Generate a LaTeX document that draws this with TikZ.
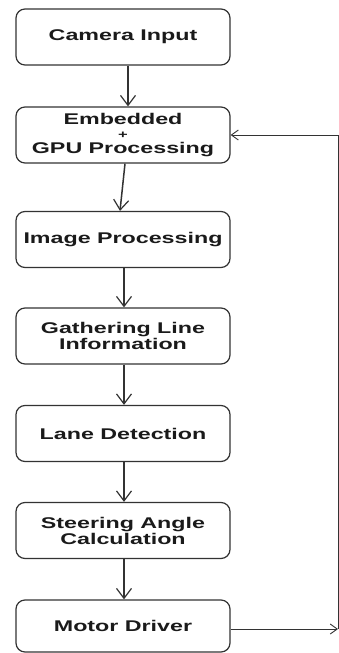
\documentclass[tikz,border=0pt]{standalone}
\usepackage{fontspec}
\newfontfamily\boxfont[FakeStretch=1.5]{Liberation Sans}
\usetikzlibrary{arrows.meta}
\definecolor{linegray}{HTML}{333333}
\definecolor{txt}{HTML}{1A1A1A}
\begin{document}
\begin{tikzpicture}[x=1pt,y=-1pt,
  box/.style={draw=linegray, line width=1.2pt, rounded corners=9pt,
    minimum width=214pt, minimum height=56pt, inner sep=0pt, align=center,
    font=\boxfont\bfseries\fontsize{15.5}{16}\selectfont, text=txt},
  conn/.style={draw=linegray, line width=1.5pt,
    -{Straight Barb[length=10pt,width=15pt,line width=1.2pt]}},
  fconn/.style={draw=linegray, line width=0.9pt,
    -{Straight Barb[length=7pt,width=10pt,line width=0.9pt]}},
  plain/.style={draw=linegray, line width=1pt}]
\useasboundingbox (0,0) rectangle (339,653);
\node[box] (b1) at (123,37) {Camera Input};
\node[box] (b2) at (123,135) {Embedded\\[-2pt]{\fontsize{11}{11}\selectfont +}\\[-1pt]GPU Processing};
\node[box] (b3) at (123,239.5) {Image Processing};
\node[box] (b4) at (123,336) {Gathering Line\\Information};
\node[box] (b5) at (123,433.5) {Lane Detection};
\node[box] (b6) at (123,530.5) {Steering Angle\\Calculation};
\node[box, minimum height=52pt] (b7) at (123,626) {Motor Driver};
\coordinate (c1) at (338,629);
\coordinate (c2) at (338,135);
\draw[conn] ([xshift=5pt]b1.south) -- ([xshift=5pt]b2.north);
\draw[conn] ([xshift=2pt]b2.south) -- ([xshift=-3pt]b3.north);
\draw[conn] ([xshift=1pt]b3.south) -- ([xshift=1pt]b4.north);
\draw[conn] ([xshift=1pt]b4.south) -- ([xshift=1pt]b5.north);
\draw[conn] ([xshift=1pt]b5.south) -- ([xshift=1pt]b6.north);
\draw[conn] ([xshift=1pt]b6.south) -- ([xshift=1pt]b7.north);
\draw[fconn] ([yshift=-3pt]b7.east) -- (c1);
\draw[plain] (c1) -- (c2);
\draw[fconn] (c2) -- (b2.east);
\end{tikzpicture}
\end{document}
